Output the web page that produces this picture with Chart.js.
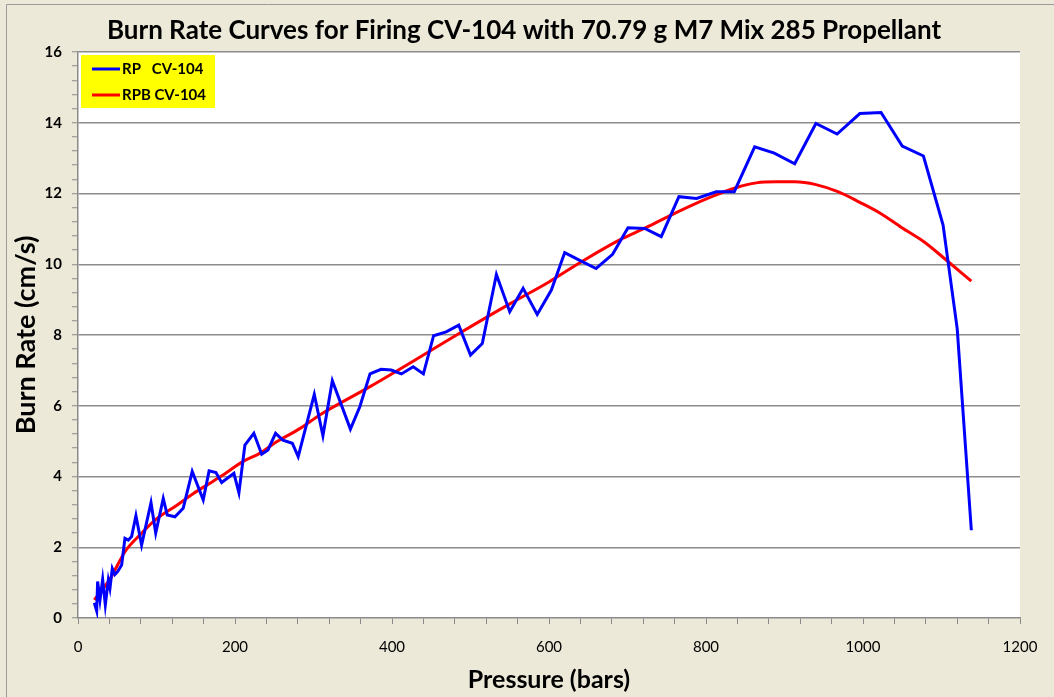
<!DOCTYPE html>
<html>
<head>
<meta charset="utf-8">
<script src="https://cdn.jsdelivr.net/npm/chart.js@4"></script>
<style>
  html, body { margin: 0; padding: 0; background: #ECE9D8; }
  #wrap { width: 1054px; height: 697px; position: relative; }
</style>
</head>
<body>
<div id="wrap"><canvas id="c" width="1054" height="697"></canvas></div>
<script>
// ---- data ----
const chartTitle = 'Burn Rate Curves for Firing CV-104 with 70.79 g M7 Mix 285 Propellant';
const xAxisTitle = 'Pressure (bars)';
const yAxisTitle = 'Burn Rate (cm/s)';
const seriesNames = ['RP   CV-104', 'RPB CV-104'];

const rpPressure = [20.8, 23.8, 25, 28, 31.4, 34.8, 38.6, 40.7, 43.7, 47, 50.5, 55.6, 59.8, 64, 68.3, 73.8, 81,
  93, 99, 108.6, 113.7, 123.5, 134, 145.5, 159.5, 167, 175.7, 183, 198.6, 205, 212.6, 224, 234, 242, 251.7, 261,
  273, 280.5, 301, 312, 324, 347, 359, 372, 386, 399, 412, 427, 440, 453, 469, 485, 500, 515, 533, 550, 567, 585,
  603, 620, 641, 660, 681, 700.6, 722, 743, 765.5, 788, 813, 836, 862, 887, 913, 940, 967, 996, 1023, 1050, 1077,
  1102, 1120, 1138];
const rpRate = [0.43, 0.2, 1.03, 0.51, 1.09, 0.37, 1.07, 0.84, 1.4, 1.23, 1.31, 1.5, 2.25, 2.2, 2.3, 2.89, 2.06,
  3.26, 2.4, 3.38, 2.91, 2.86, 3.1, 4.14, 3.34, 4.16, 4.11, 3.83, 4.09, 3.54, 4.89, 5.22, 4.63, 4.75, 5.22, 5.03,
  4.94, 4.56, 6.32, 5.15, 6.71, 5.34, 5.97, 6.9, 7.03, 7.01, 6.9, 7.1, 6.9, 7.98, 8.09, 8.28, 7.43, 7.76, 9.71, 8.66,
  9.32, 8.58, 9.27, 10.33, 10.09, 9.88, 10.28, 11.03, 11.01, 10.78, 11.91, 11.86, 12.05, 12.05, 13.32, 13.14, 12.84,
  13.98, 13.68, 14.26, 14.29, 13.34, 13.06, 11.11, 8.18, 2.48];

const rpbPressure = [20.8, 40.7, 60, 79, 100, 126, 147, 168, 181, 210, 232, 253, 283, 308, 372, 430, 486, 550, 600,
  645, 690, 724, 762, 805, 839, 864, 889, 913, 940, 968, 996, 1023, 1049, 1078, 1106, 1138];
const rpbRate = [0.51, 1.1, 1.88, 2.35, 2.8, 3.19, 3.52, 3.81, 3.99, 4.42, 4.66, 4.98, 5.36, 5.74, 6.54, 7.3, 8.05,
  8.88, 9.5, 10.12, 10.69, 11.04, 11.46, 11.89, 12.17, 12.3, 12.33, 12.33, 12.25, 12.05, 11.75, 11.43, 11.04, 10.63,
  10.12, 9.52];

const xTickLabels = [0, 200, 400, 600, 800, 1000, 1200];
const yTickLabels = [0, 2, 4, 6, 8, 10, 12, 14, 16];

const toPoints = (xs, ys) => xs.map((x, i) => ({ x: x, y: ys[i] }));
const isMajorY = v => yTickLabels.some(t => Math.abs(t - v) < 1e-6);
const isMajorX = v => xTickLabels.some(t => Math.abs(t - v) < 1e-6);

const FONT = 'Lato, "Open Sans", "DejaVu Sans", sans-serif';

const framePlugin = {
  id: 'frame',
  beforeDraw(chart) {
    const { ctx, chartArea: a } = chart;
    ctx.save();
    ctx.fillStyle = '#ECE9D8';
    ctx.fillRect(0, 0, chart.width, chart.height);
    ctx.strokeStyle = '#9a9a9a';
    ctx.lineWidth = 1;
    ctx.beginPath();
    ctx.moveTo(6.5, chart.height);
    ctx.lineTo(6.5, 4.5);
    ctx.lineTo(chart.width, 4.5);
    ctx.stroke();
    ctx.fillStyle = '#ffffff';
    ctx.fillRect(a.left, a.top, a.right - a.left, a.bottom - a.top);
    // chart title
    ctx.fillStyle = '#000';
    ctx.font = 'bold 26px ' + FONT;
    ctx.textAlign = 'center';
    ctx.textBaseline = 'middle';
    ctx.fillText(chartTitle, 524, 31);
    ctx.restore();
  },
  afterDatasetsDraw(chart) {
    const { ctx, chartArea: a } = chart;
    ctx.save();
    const bx = a.left + 3, by = a.top + 3;
    ctx.fillStyle = '#FFFF00';
    ctx.fillRect(bx, by, 134, 53);
    ctx.font = 'bold 15px ' + FONT;
    ctx.textBaseline = 'middle';
    chart.data.datasets.forEach((ds, i) => {
      const y = by + 14 + i * 26;
      ctx.strokeStyle = ds.borderColor;
      ctx.lineWidth = 3;
      ctx.beginPath();
      ctx.moveTo(bx + 11, y);
      ctx.lineTo(bx + 39, y);
      ctx.stroke();
      ctx.fillStyle = '#000';
      ctx.fillText(ds.label, bx + 41, y);
    });
    ctx.restore();
  }
};

new Chart(document.getElementById('c'), {
  type: 'line',
  data: {
    datasets: [
      {
        label: seriesNames[0],
        data: toPoints(rpPressure, rpRate),
        borderColor: '#0000FF',
        backgroundColor: '#0000FF',
        borderWidth: 3,
        pointRadius: 0,
        tension: 0,
        fill: false
      },
      {
        label: seriesNames[1],
        data: toPoints(rpbPressure, rpbRate),
        borderColor: '#FF0000',
        backgroundColor: '#FF0000',
        borderWidth: 3,
        pointRadius: 0,
        cubicInterpolationMode: 'monotone',
        fill: false
      }
    ]
  },
  options: {
    responsive: false,
    animation: false,
    devicePixelRatio: 1,
    layout: { padding: { top: 52, right: 34, left: 0, bottom: 0 } },
    plugins: {
      legend: { display: false },
      tooltip: { enabled: false },
      title: { display: false }
    },
    scales: {
      x: {
        type: 'linear',
        min: 0,
        max: 1200,
        afterFit: s => { s.height = 79; },
        afterBuildTicks: s => {
          const t = [];
          for (let v = 0; v <= 1200; v += 40) t.push({ value: v });
          s.ticks = t;
        },
        ticks: {
          autoSkip: false,
          maxRotation: 0,
          padding: 14,
          color: '#000',
          font: { family: FONT, size: 15 },
          callback: v => (isMajorX(v) ? String(v) : '')
        },
        grid: {
          drawOnChartArea: false,
          drawTicks: true,
          tickLength: 6,
          tickColor: '#8a8a8a',
          tickWidth: 1
        },
        border: { display: true, color: '#8a8a8a', width: 1.5 },
        title: {
          display: true,
          text: xAxisTitle,
          color: '#000',
          font: { family: FONT, size: 25, weight: 'bold' },
          padding: { top: 0, bottom: 2 }
        }
      },
      y: {
        type: 'linear',
        min: 0,
        max: 16,
        afterFit: s => { s.width = 78; },
        afterBuildTicks: s => {
          const t = [];
          for (let i = 0; i <= 40; i++) t.push({ value: Math.round(i * 0.4 * 10) / 10 });
          s.ticks = t;
        },
        ticks: {
          autoSkip: false,
          padding: 10,
          color: '#000',
          font: { family: FONT, size: 15, weight: 'bold' },
          callback: v => (isMajorY(v) ? String(Math.round(v)) : '')
        },
        grid: {
          drawTicks: true,
          tickLength: 6,
          tickColor: '#8a8a8a',
          tickWidth: 1,
          lineWidth: 1.5,
          color: c => (c.tick && isMajorY(c.tick.value) && c.tick.value > 0 ? '#8c8c8c' : 'rgba(0,0,0,0)')
        },
        border: { display: true, color: '#8a8a8a', width: 1.5 },
        title: {
          display: true,
          text: yAxisTitle,
          color: '#000',
          font: { family: FONT, size: 27, weight: 'bold' },
          padding: { top: 10, bottom: 0 }
        }
      }
    }
  },
  plugins: [framePlugin]
});
</script>
</body>
</html>
